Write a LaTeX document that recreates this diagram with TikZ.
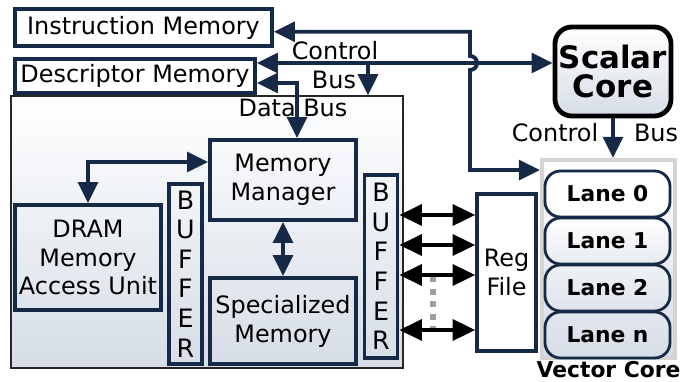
\documentclass[tikz,border=0pt]{standalone}
\usepackage{fontspec}
\setmainfont{DejaVu Sans}
\usepackage{tikz}
\usetikzlibrary{positioning, arrows.meta}

\definecolor{navy}{RGB}{22,42,72}
\definecolor{paleblue}{RGB}{214,221,231}
\definecolor{coregray}{RGB}{212,212,212}

\newcommand{\boxfont}{\fontsize{17}{20.5}\selectfont}
\newcommand{\letterfont}{\fontsize{18}{21}\selectfont}
\newcommand{\corefont}{\fontsize{22}{20}\selectfont\bfseries}
\newcommand{\lanefont}{\fontsize{15.5}{17}\selectfont\bfseries}

\tikzset{
	unit/.style={draw=navy, line width=2.6pt, inner sep=0pt, align=center, font=\boxfont},
	buffer/.style={unit, minimum width=0.83cm, font=\letterfont},
	lane/.style={draw=navy, line width=2pt, rounded corners=11pt, minimum width=3.125cm, minimum height=1.15cm, inner sep=0pt, font=\lanefont},
	link/.style={draw=navy, line width=2.8pt},
	wire/.style={draw=black, line width=2.2pt, >={Triangle[length=16pt,width=15pt]}, <->},
	busnote/.style={font=\boxfont}
}

\begin{document}
\begin{tikzpicture}[x=0.025cm, y=-0.025cm, >={Triangle[length=15pt,width=14pt]}]
		\useasboundingbox (0,0) rectangle (680,382);
		
		% Memory subsystem
		\node[draw=black!85, line width=1pt, top color=white, bottom color=paleblue, minimum width=9.8cm, minimum height=6.8cm] (mem) at (207,232) {};
		\node[unit, fill=white, minimum width=6.425cm, minimum height=0.925cm] (instr) at (143.5,27.5) {Instruction Memory};
		\node[unit, fill=white, minimum width=6cm, minimum height=0.85cm] (desc) at (135,76) {Descriptor Memory};
		\node[unit, minimum width=3.65cm, minimum height=2cm] (mm) at (283,180) {Memory\\Manager};
		\node[unit, minimum width=3.65cm, minimum height=2.15cm] (spec) at (283,321) {Specialized\\Memory};
		\node[unit, minimum width=3.65cm, minimum height=2.625cm] (dram) at (88,257.5) {DRAM\\Memory\\Access Unit};
		\node[buffer, minimum height=4.5cm] (lbuf) at (185.5,274) {B\\U\\F\\F\\E\\R};
		\node[buffer, minimum height=4.575cm] (rbuf) at (381,266.5) {B\\U\\F\\F\\E\\R};
		
		% Cores
		\node[draw=black, line width=3.4pt, rounded corners=12pt, top color=white, bottom color=paleblue, minimum width=2.9cm, minimum height=2.225cm, inner sep=0pt, align=center, font=\corefont] (scalar) at (613,71.5) {Scalar\\Core};
		\node[unit, fill=white, minimum width=1.475cm, minimum height=3.925cm] (reg) at (506.5,272.5) {Reg\\File};
		\node[draw=coregray, line width=3pt, top color=white, bottom color=paleblue, minimum width=3.325cm, minimum height=4.95cm] (vcore) at (608.5,259) {};
		\node[lane, fill=white] (lane0) at (607.5,194) {Lane 0};
		\node[lane, below=-1.3pt of lane0, top color=white, bottom color=paleblue!60] (lane1) {Lane 1};
		\node[lane, below=-1.3pt of lane1, top color=paleblue!40, bottom color=paleblue!80] (lane2) {Lane 2};
		\node[lane, below=-1.3pt of lane2, top color=paleblue!70, bottom color=paleblue] (lanen) {Lane n};
		\node[below=-3pt of vcore, font=\fontsize{15.5}{18}\selectfont\bfseries] (vlabel) {Vector Core};
		
		% Bus junctions
		\coordinate (jmp) at (470,63);
		\coordinate (ctl) at (368,63);
		\coordinate (dbus) at (297,83);
		\coordinate (vin) at (540,170);
		
		% Instruction path, hopping over the control bus
		\draw[link, <->] ([yshift=-3pt]instr.east) -| ([yshift=5pt]jmp) arc[start angle=90, end angle=-90, radius=5pt] |- (vin);
		
		% Control bus
		\draw[link, <->] (desc.east |- ctl) -- (scalar.west |- ctl);
		\draw[link, ->] (ctl) -- (mem.north -| ctl);
		\draw[link, ->] (scalar.south) -- (scalar.south |- vcore.north);
		
		% Data bus
		\draw[link, <->] (desc.east |- dbus) -| (mm.north -| dbus);
		\draw[link, <->] ([yshift=12.8pt]mm.west) -| (dram.north);
		\draw[link, <->] (mm.south) -- (spec.north);
		
		% Buffer to register file
		\draw[gray!75, line width=4.3pt, dash pattern=on 4.3pt off 4.6pt] (433,276) -- (433,330);
		\foreach \y in {215,245,275,330}
			\draw[wire] (rbuf.east |- 0,\y) -- (reg.west |- 0,\y);
		
		% Bus labels
		\node[busnote] (ctltop) at (335,51) {Control};
		\node[busnote] (bustop) at (334,80) {Bus};
		\node[busnote] (dlabel) at (293,108) {Data Bus};
		\node[busnote] (ctlcore) at (555,133) {Control};
		\node[busnote] (buscore) at (656,133) {Bus};
	\end{tikzpicture}
\end{document}
